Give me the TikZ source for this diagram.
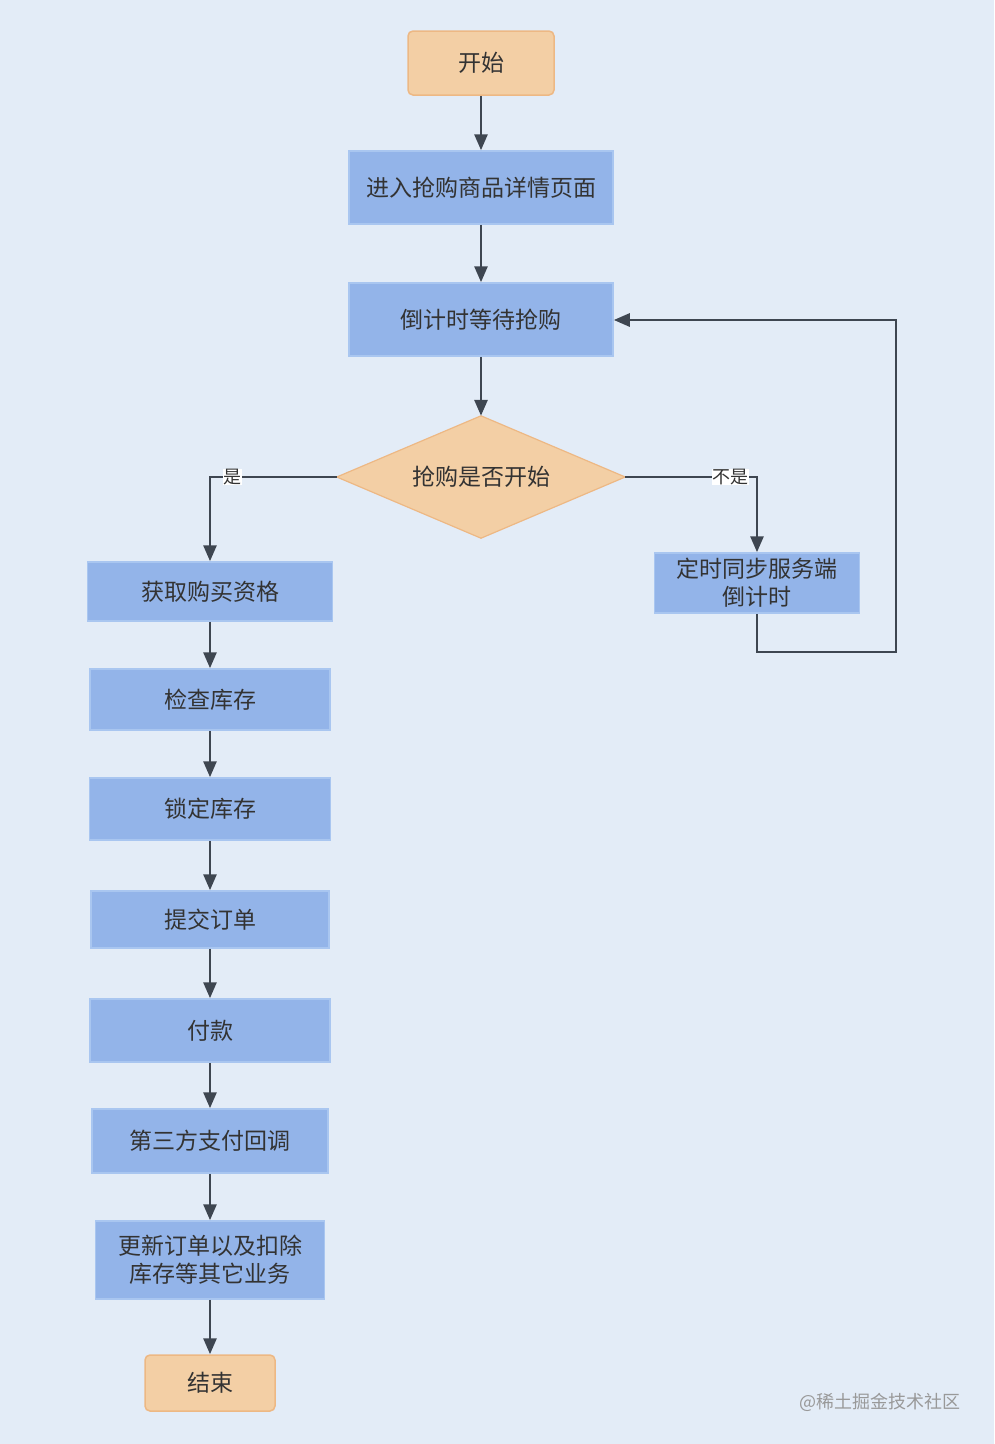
\documentclass[tikz,border=0pt]{standalone}
\usepackage{fontspec}
\setmainfont{Noto Sans CJK SC}
\usetikzlibrary{arrows.meta}
\definecolor{bg}{HTML}{E3ECF7}
\definecolor{bluefill}{HTML}{93B4E9}
\definecolor{blueline}{HTML}{A9C6F0}
\definecolor{orfill}{HTML}{F3CFA5}
\definecolor{orline}{HTML}{EDB884}
\definecolor{conn}{HTML}{3E4651}
\definecolor{txt}{HTML}{333333}
\tikzset{
  proc/.style={rectangle, fill=bluefill, draw=blueline, line width=1.5pt, text=txt, align=center,
    font=\fontsize{23}{28}\selectfont, inner sep=0pt},
  term/.style={rectangle, rounded corners=5pt, fill=orfill, draw=orline, line width=1.5pt, text=txt,
    font=\fontsize{23}{28}\selectfont, inner sep=0pt},
  arr/.style={draw=conn, line width=2.8pt, -{Triangle[length=16pt,width=13pt]}},
  lbl/.style={fill=white, text=txt, font=\fontsize{18}{20}\selectfont, inner sep=0.5pt}
}
\begin{document}
\begin{tikzpicture}[x=1pt,y=-1pt]
\fill[bg] (0,0) rectangle (994,1444);
\useasboundingbox (0,0) rectangle (994,1444);

\node[term, minimum width=146pt, minimum height=64pt] (start) at (481,63) {开始};
\node[proc, minimum width=264pt, minimum height=73pt] (enter) at (481,187.5) {进入抢购商品详情页面};
\node[proc, minimum width=264pt, minimum height=73pt] (wait) at (481,319.5) {倒计时等待抢购};
\node[minimum width=288pt, minimum height=122pt, inner sep=0pt] (dec) at (481,477) {};
\fill[orfill] (dec.west) -- (dec.north) -- (dec.east) -- (dec.south) -- cycle;
\draw[orline, line width=1.2pt, line join=round] (dec.west) -- (dec.north) -- (dec.east) -- (dec.south) -- cycle;
\node[text=txt, font=\fontsize{23}{28}\selectfont] (dectext) at (481,477) {抢购是否开始};

\node[proc, minimum width=245pt, minimum height=59pt] (qual) at (210,591.5) {获取购买资格};
\node[proc, minimum width=240pt, minimum height=61pt] (check) at (210,699.5) {检查库存};
\node[proc, minimum width=241pt, minimum height=62pt] (lock) at (210,809) {锁定库存};
\node[proc, minimum width=238pt, minimum height=57pt] (order) at (210,919.5) {提交订单};
\node[proc, minimum width=240pt, minimum height=63pt] (pay) at (210,1030.5) {付款};
\node[proc, minimum width=236pt, minimum height=64pt] (cb) at (210,1141) {第三方支付回调};
\node[proc, minimum width=229pt, minimum height=78pt] (upd) at (210,1260) {更新订单以及扣除\\库存等其它业务};
\node[term, minimum width=130pt, minimum height=56pt] (fin) at (210,1383) {结束};

\node[proc, minimum width=205pt, minimum height=60pt] (sync) at (757,583) {定时同步服务端\\倒计时};

\coordinate (yesc) at (210,477);
\coordinate (noc) at (757,477);
\coordinate (lb) at (757,652);
\coordinate (rb) at (896,652);
\coordinate (rt) at (896,320);

\draw[arr] (start) -- (enter);
\draw[arr] (enter) -- (wait);
\draw[arr] (wait) -- (dec.north);
\draw[arr] (dec.west) -- (yesc) -- (qual.north);
\draw[arr] (dec.east) -- (noc) -- (sync.north);
\draw[arr] (sync.south) -- (lb) -- (rb) -- (rt) -- (wait.east |- rt);
\draw[arr] (qual) -- (check);
\draw[arr] (check) -- (lock);
\draw[arr] (lock) -- (order);
\draw[arr] (order) -- (pay);
\draw[arr] (pay) -- (cb);
\draw[arr] (cb) -- (upd);
\draw[arr] (upd) -- (fin);

\node[lbl] (yes) at (232,477) {是};
\node[lbl] (no) at (730,477) {不是};

\node[text=gray!80, font=\fontsize{18}{20}\selectfont, anchor=east] (wm) at (964,1402) {@稀土掘金技术社区};
\end{tikzpicture}
\end{document}
